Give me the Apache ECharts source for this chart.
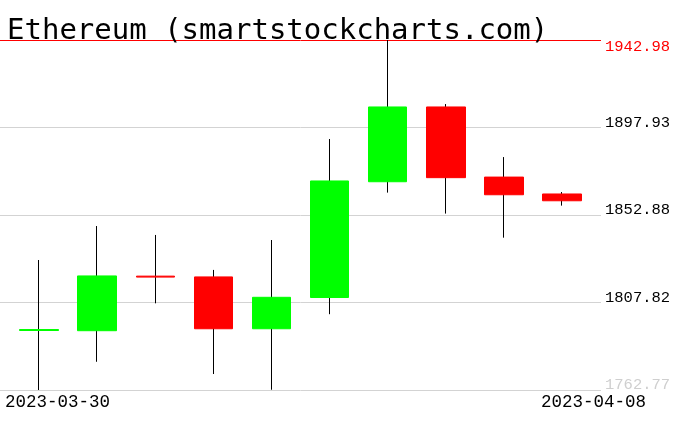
<!DOCTYPE html>
<html>
<head>
<meta charset="utf-8">
<script src="https://cdn.jsdelivr.net/npm/echarts@6/dist/echarts.min.js"></script>
<style>html,body{margin:0;padding:0;background:#fff;}#c{width:676px;height:431px;}</style>
</head>
<body>
<div id="c"></div>
<script>
const titleText = 'Ethereum (smartstockcharts.com)';
const dates = ['2023-03-30','2023-03-31','2023-04-01','2023-04-02','2023-04-03','2023-04-04','2023-04-05','2023-04-06','2023-04-07','2023-04-08'];
const opens  = [1793.4, 1793.3, 1821.4, 1821.0, 1794.3, 1810.4, 1870.0, 1908.5, 1872.4, 1863.7];
const closes = [1793.9, 1821.5, 1820.9, 1794.3, 1810.5, 1870.4, 1908.5, 1872.1, 1863.3, 1860.2];
const lows   = [1762.77, 1777.3, 1807.4, 1771.0, 1762.9, 1801.8, 1864.4, 1853.6, 1841.2, 1857.7];
const highs  = [1829.7, 1847.2, 1842.6, 1824.6, 1840.0, 1892.0, 1942.98, 1910.0, 1882.7, 1864.7];
const yTicks = ['1762.77','1807.82','1852.88','1897.93','1942.98'];

const yMin = parseFloat(yTicks[0]);
const yMax = parseFloat(yTicks[yTicks.length-1]);
const yInt = (yMax - yMin) / (yTicks.length - 1);

function tickLabel(v){
  let best = 0, bd = Infinity;
  yTicks.forEach((t,i)=>{ const d = Math.abs(parseFloat(t)-v); if(d<bd){bd=d;best=i;} });
  return best;
}

const wickData = dates.map((d,i)=>[opens[i], closes[i], lows[i], highs[i]]);
const bodyData = dates.map((d,i)=>[opens[i], closes[i], Math.min(opens[i],closes[i]), Math.max(opens[i],closes[i])]);

const chart = echarts.init(document.getElementById('c'), null, {renderer:'canvas'});
const TOP = 40, BOTTOM = 41;
chart.setOption({
  animation: false,
  backgroundColor: '#fff',
  title: {
    text: titleText, left: 2, top: 12,
    textStyle: {fontFamily: 'DejaVu Sans Mono', fontSize: 29, fontWeight: 'normal', color: '#000'}
  },
  grid: [
    {left: 0, right: 75, top: TOP, bottom: BOTTOM},
    {left: 10, right: 85, top: TOP, bottom: BOTTOM},
    {left: 27.7, right: 676-27.7-595.6, top: TOP, bottom: BOTTOM}
  ],
  xAxis: [
    {gridIndex: 0, type: 'category', data: dates, show: false},
    {gridIndex: 1, type: 'category', data: dates, show: false, boundaryGap: true},
    {gridIndex: 2, type: 'category', data: dates, boundaryGap: true,
      axisLine: {show: false}, axisTick: {show: false}, splitLine: {show: false},
      axisLabel: {
        interval: (i)=> i===0 || i===dates.length-1,
        margin: 3, color: '#000', fontFamily: 'Liberation Mono', fontSize: 17.5
      }
    }
  ],
  yAxis: [
    {gridIndex: 0, type: 'value', position: 'right', min: yMin, max: yMax, interval: yInt,
      axisLine: {show: false}, axisTick: {show: false},
      splitLine: {show: true, lineStyle: {color: ['#d3d3d3','#d3d3d3','#d3d3d3','#d3d3d3','#ff0000'], width: 1}},
      axisLabel: {
        margin: 4, verticalAlign: 'middle',
        formatter: (v)=>{ const i = tickLabel(v); return i===yTicks.length-1 ? '{t|'+yTicks[i]+'}' : (i===0 ? '{g|'+yTicks[i]+'}' : '{n|'+yTicks[i]+'}'); },
        rich: {
          n: {fontFamily:'Liberation Mono', fontSize: 15.5, lineHeight: 16, color:'#000', padding:[0,0,10,0]},
          g: {fontFamily:'Liberation Mono', fontSize: 15.5, lineHeight: 16, color:'#cfcfcf', padding:[0,0,10,0]},
          t: {fontFamily:'Liberation Mono', fontSize: 15.5, lineHeight: 16, color:'#ff0000', padding:[14,0,0,0]}
        }
      }
    },
    {gridIndex: 1, type: 'value', min: yMin, max: yMax, show: false, splitLine: {show:false}},
    {gridIndex: 2, type: 'value', min: yMin, max: yMax, show: false, splitLine: {show:false}}
  ],
  series: [
    {type: 'candlestick', xAxisIndex: 1, yAxisIndex: 1, data: wickData, barWidth: 0.01,
      itemStyle: {color: '#000', color0: '#000', borderColor: '#000', borderColor0: '#000', borderWidth: 1}},
    {type: 'candlestick', xAxisIndex: 1, yAxisIndex: 1, data: bodyData, barWidth: 39,
      itemStyle: {color: '#00ff00', color0: '#ff0000', borderColor: '#00ff00', borderColor0: '#ff0000', borderWidth: 1}}
  ]
});
</script>
</body>
</html>
